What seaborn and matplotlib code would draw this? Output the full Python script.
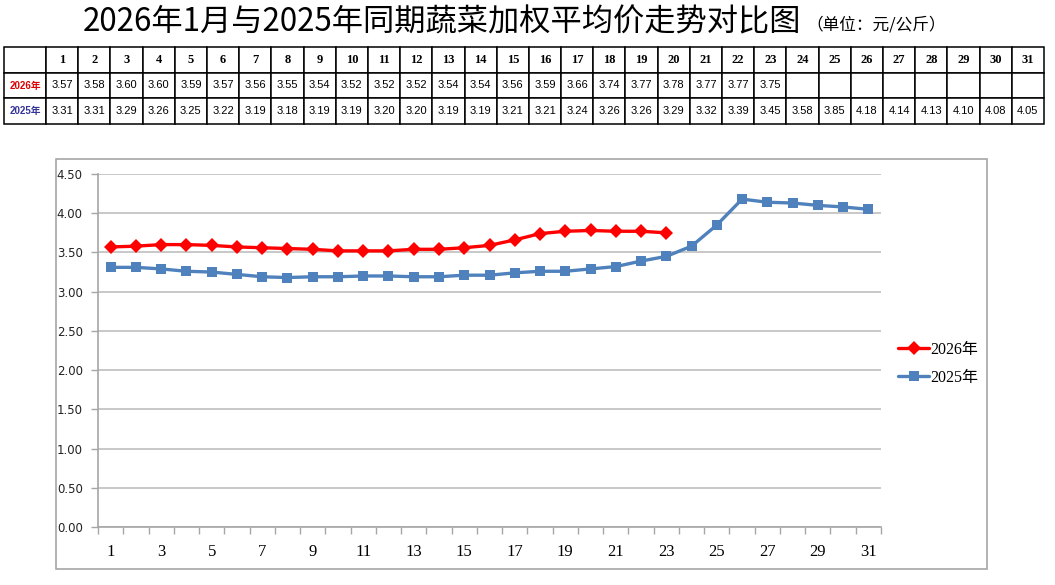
import numpy as np
import pandas as pd
import matplotlib
matplotlib.use('Agg')
import matplotlib.pyplot as plt
from matplotlib.patches import Rectangle
from matplotlib.ticker import FixedLocator
import seaborn as sns

days = list(range(1, 32))
price_2026 = [3.57, 3.58, 3.60, 3.60, 3.59, 3.57, 3.56, 3.55, 3.54, 3.52, 3.52, 3.52,
              3.54, 3.54, 3.56, 3.59, 3.66, 3.74, 3.77, 3.78, 3.77, 3.77, 3.75]
price_2025 = [3.31, 3.31, 3.29, 3.26, 3.25, 3.22, 3.19, 3.18, 3.19, 3.19, 3.20, 3.20,
              3.19, 3.19, 3.21, 3.21, 3.24, 3.26, 3.26, 3.29, 3.32, 3.39, 3.45, 3.58,
              3.85, 4.18, 4.14, 4.13, 4.10, 4.08, 4.05]
series_names = ['2026年', '2025年']
yticks = [0.0, 0.5, 1.0, 1.5, 2.0, 2.5, 3.0, 3.5, 4.0, 4.5]

title = '2026年1月与2025年同期蔬菜加权平均价走势对比图'
unit = '（单位：元/公斤）'

p26 = price_2026 + [np.nan] * (len(days) - len(price_2026))
df = pd.DataFrame({
    'day': days * 2,
    'price': p26 + price_2025,
    'year': [series_names[0]] * len(days) + [series_names[1]] * len(days),
})

sns.set_theme(style='white')
plt.rcParams['font.family'] = ['DejaVu Sans', 'Noto Sans CJK SC']
plt.rcParams['text.color'] = 'black'
plt.rcParams['xtick.color'] = 'black'
plt.rcParams['ytick.color'] = 'black'

W, H = 1055, 585
fig = plt.figure(figsize=(W / 100, H / 100), dpi=100)
fig.patch.set_facecolor('white')

def fx(x):
    return x / W

def fy(y):
    return 1 - y / H

# title
fig.text(fx(83), fy(22), title, fontsize=22.5, ha='left', va='center',
         family=['Noto Sans CJK SC', 'DejaVu Sans'], fontweight='medium')
fig.text(fx(806), fy(25), unit, fontsize=12, ha='left', va='center',
         family=['Noto Sans CJK SC', 'DejaVu Sans'])

# data table
tax = fig.add_axes([fx(4), fy(124), fx(1044) - fx(4), fy(47) - fy(124)])
tax.axis('off')
header = [''] + [str(d) for d in days]
row26 = [series_names[0]] + [f'{v:.2f}' if not np.isnan(v) else '' for v in p26]
row25 = [series_names[1]] + [f'{v:.2f}' for v in price_2025]
first_w = 42
other_w = (1040 - first_w) / 31
col_w = [first_w / 1040] + [other_w / 1040] * 31
tbl = tax.table(cellText=[header, row26, row25], colWidths=col_w,
                bbox=[0, 0, 1, 1], cellLoc='center')
tbl.auto_set_font_size(False)
for (r, c), cell in tbl.get_celld().items():
    cell.set_edgecolor('black')
    cell.set_linewidth(1.1)
    txt = cell.get_text()
    txt.set_fontsize(8)
    if r == 0:
        txt.set_fontweight('bold')
        txt.set_family(['Liberation Serif'])
        txt.set_fontsize(9)
    elif c == 0:
        txt.set_color('#E00000' if r == 1 else '#333399')
        txt.set_fontweight('bold')
        txt.set_fontsize(7)
        txt.set_family(['Liberation Sans', 'Noto Sans CJK SC'])
    else:
        txt.set_family(['Liberation Sans'])

# chart frame
fig.patches.append(Rectangle((fx(56), fy(569)), fx(987) - fx(56), fy(159) - fy(569),
                             transform=fig.transFigure, fill=False,
                             edgecolor='#A6A6A6', linewidth=1.2))

ax = fig.add_axes([fx(98), fy(527), fx(881) - fx(98), fy(174) - fy(527)])
sns.lineplot(data=df, x='day', y='price', hue='year', style='year',
             markers={series_names[0]: 'D', series_names[1]: 's'}, dashes=False,
             palette={series_names[0]: '#FF0000', series_names[1]: '#4F81BD'},
             linewidth=2.4, markersize=7.5, markeredgewidth=0, ax=ax)

ax.set_xlim(0.5, 31.5)
ax.set_ylim(0, 4.5)
ax.set_yticks(yticks)
ax.set_yticklabels([f'{v:.2f}' for v in yticks], fontsize=8.5, color='#222222')
ax.yaxis.grid(True, color='#BFBFBF', linewidth=1.2)
ax.set_axisbelow(True)
ax.set_xticks(days[::2])
ax.set_xticklabels([str(d) for d in days[::2]], fontsize=12,
                   family=['Liberation Serif'])
ax.xaxis.set_minor_locator(FixedLocator(np.arange(0.5, 32, 1)))
ax.tick_params(axis='x', which='major', length=0, pad=12)
ax.tick_params(axis='x', which='minor', length=5, color='#A6A6A6', width=1, bottom=True)
ax.tick_params(axis='y', length=5, color='#A6A6A6', width=1, left=True, pad=6)
for s in ['top', 'right']:
    ax.spines[s].set_visible(False)
for s in ['left', 'bottom']:
    ax.spines[s].set_color('#A6A6A6')
    ax.spines[s].set_linewidth(1.2)
ax.set_xlabel('')
ax.set_ylabel('')

leg = ax.legend(loc='center left', bbox_to_anchor=(fx(884), fy(364)),
                bbox_transform=fig.transFigure, frameon=False,
                handlelength=1.9, handletextpad=0.1, labelspacing=0.75,
                prop={'family': ['Liberation Serif', 'Noto Sans CJK SC'], 'size': 11.5})

fig.savefig('out.png', dpi=100)
